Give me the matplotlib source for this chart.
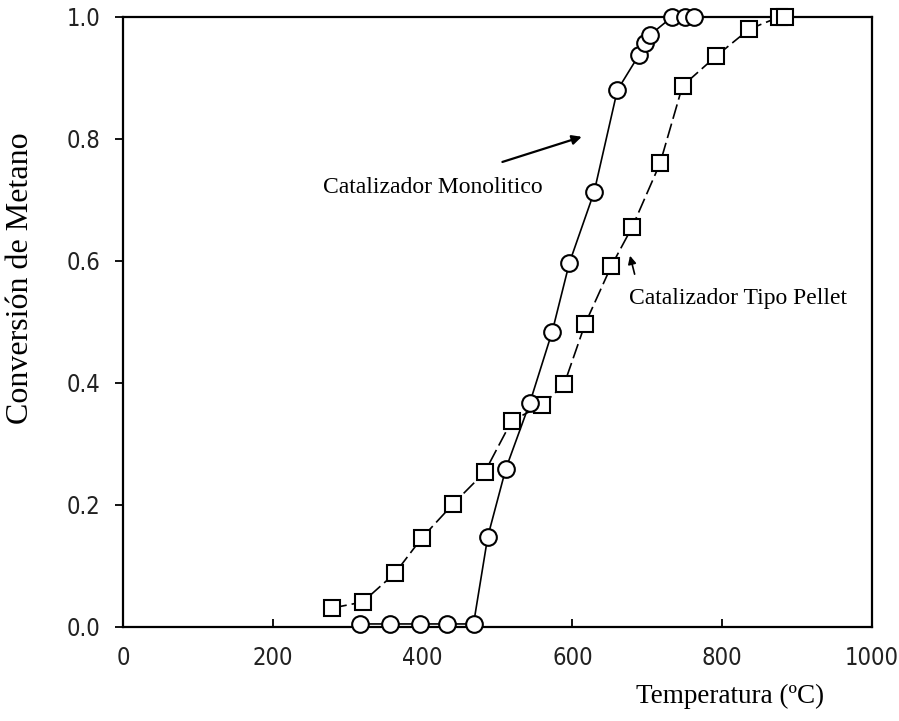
import matplotlib
matplotlib.use("Agg")
import matplotlib.pyplot as plt
from matplotlib import font_manager

# conversion data
temp_mono = [317, 357, 397, 433, 468, 487, 511, 543, 573, 596, 629, 660, 689, 697, 703, 733, 750, 763]
conv_mono = [0.005, 0.005, 0.005, 0.005, 0.005, 0.148, 0.259, 0.367, 0.484, 0.597, 0.713, 0.880,
             0.938, 0.957, 0.970, 1.0, 1.0, 1.0]

temp_pellet = [279, 320, 363, 399, 441, 483, 519, 560, 589, 617, 652, 680, 717, 747, 792, 836, 876, 884]
conv_pellet = [0.031, 0.041, 0.088, 0.146, 0.202, 0.254, 0.338, 0.364, 0.398, 0.497, 0.592, 0.656,
               0.760, 0.887, 0.936, 0.980, 1.0, 1.0]

xticks = [0, 200, 400, 600, 800, 1000]
yticks = [0.0, 0.2, 0.4, 0.6, 0.8, 1.0]

# narrow sans for the tick numbers if one is around
tick_fp = font_manager.FontProperties(family='Liberation Sans', size=16)
for f in font_manager.fontManager.ttflist:
    if ('Narrow' in f.name or 'Condensed' in f.fname) and 'Bold' not in f.fname \
            and 'Oblique' not in f.fname and 'Italic' not in f.fname and 'Serif' not in f.fname \
            and 'Mono' not in f.fname:
        tick_fp = font_manager.FontProperties(fname=f.fname, size=17)
        break
serif = 'Liberation Serif'

fig = plt.figure(figsize=(8.99, 7.21), dpi=100)
ax = fig.add_axes([123/899, 1 - 627/721, 749/899, 610/721])

ax.plot(temp_pellet, conv_pellet, color='black', lw=1.2, linestyle=(0, (9, 3)),
        marker='s', ms=12, mfc='white', mec='black', mew=1.5, clip_on=False, zorder=3)
ax.plot(temp_mono, conv_mono, color='black', lw=1.2, linestyle='-',
        marker='o', ms=12, mfc='white', mec='black', mew=1.5, clip_on=False, zorder=4)

ax.set_xlim(0, 1000)
ax.set_ylim(0, 1.0)
ax.set_xticks(xticks)
ax.set_yticks(yticks)
ax.set_yticklabels([f"{v:.1f}" for v in yticks])

for s in ax.spines.values():
    s.set_linewidth(1.6)

ax.tick_params(axis='x', direction='in', length=6, width=1.3, pad=14)
ax.tick_params(axis='y', direction='out', length=6, width=1.3, pad=10)
for lab in ax.get_xticklabels() + ax.get_yticklabels():
    lab.set_fontproperties(tick_fp)
    lab.set_color('#222222')

ax.set_ylabel("Conversión de Metano", fontfamily=serif, fontsize=23)
ax.yaxis.set_label_coords(-0.118, 0.572)
ax.set_xlabel("Temperatura (ºC)", fontfamily=serif, fontsize=19.5)
ax.xaxis.set_label_coords(0.81, -0.093)

ax.annotate("", xy=(616, 0.805), xytext=(503, 0.761),
            arrowprops=dict(arrowstyle='-|>', color='black', lw=1.6, mutation_scale=14))
ax.text(413, 0.72, "Catalizador Monolitico", fontfamily=serif, fontsize=17,
        ha='center', va='center')

ax.annotate("", xy=(676, 0.613), xytext=(684, 0.574),
            arrowprops=dict(arrowstyle='-|>', color='black', lw=1.2, mutation_scale=12))
ax.text(676, 0.539, "Catalizador Tipo Pellet", fontfamily=serif, fontsize=17,
        ha='left', va='center')

fig.savefig("out.png", dpi=100)
